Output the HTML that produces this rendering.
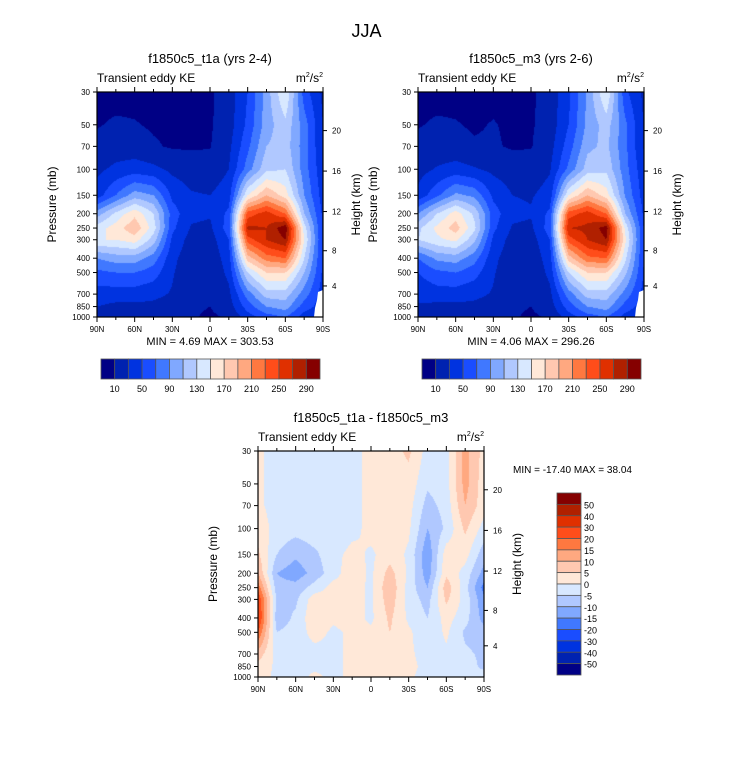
<!DOCTYPE html>
<html><head><meta charset="utf-8">
<style>
html,body{margin:0;padding:0;background:#fff;}
#wrap{position:relative;width:733px;height:772px;overflow:hidden;font-family:"Liberation Sans",sans-serif;}
canvas{position:absolute;}
svg{position:absolute;left:0;top:0;}
</style></head>
<body>
<div id="wrap">
<canvas id="c1" style="left:97px;top:92px" width="226" height="225"></canvas>
<canvas id="c2" style="left:418px;top:92px" width="226" height="225"></canvas>
<canvas id="c3" style="left:258px;top:451px" width="226" height="226"></canvas>
<svg id="ov" width="733" height="772"></svg>
</div>
<script>
// ---- data ----
const lats = [90,75,60,45,30,15,0,-15,-30,-45,-60,-75,-90];
const levs = [30,50,70,100,150,200,250,300,400,500,700,850,1000];
const keLevels = [10,30,50,70,90,110,130,150,170,190,210,230,250,270,290];
const keLabels = [10,50,90,130,170,210,250,290];
const diffLevels = [-50,-40,-30,-20,-15,-10,-5,0,5,10,15,20,30,40,50];
const colors = ["#000085","#0022b0","#0033e0","#1a4dff","#4078ff","#80a8ff","#b0c8ff","#d8e8ff","#ffe8d8","#ffc8b0","#ffa880","#ff7840","#ff4d1a","#e03000","#b02000","#850000"];
const keT1a = [
 [5,5,5,5,5,5,7,20,50,100,150,60,25],
 [9,12,11,8,7,7,8,20,55,100,125,80,30],
 [14,18,18,12,8,8,9,25,65,110,120,80,30],
 [25,35,40,35,25,20,18,30,80,125,130,80,35],
 [40,70,100,90,45,32,30,40,150,190,160,90,40],
 [100,135,165,130,60,35,32,55,240,260,230,110,45],
 [140,160,185,140,55,28,26,60,275,270,305,140,45],
 [150,150,160,120,45,22,20,50,240,270,290,150,45],
 [90,100,100,80,35,18,16,40,180,220,230,130,45],
 [65,70,70,60,32,16,14,35,130,170,170,110,45],
 [40,40,40,35,28,15,13,25,80,120,120,80,40],
 [30,25,25,25,22,13,10,20,60,90,100,60,40],
 [25,15,25,20,15,12,7,12,40,60,70,40,30]];
const keM3 = [
 [5,5,5,5,5,5,7,18,45,95,150,55,25],
 [9,12,11,8,11,7,8,18,50,95,120,75,28],
 [14,16,16,12,12,8,9,22,60,105,115,75,28],
 [22,32,38,32,25,20,18,28,75,120,125,78,35],
 [35,65,95,85,45,30,28,38,150,190,160,88,40],
 [90,130,160,125,60,35,32,55,240,260,230,110,45],
 [125,155,180,135,55,28,26,60,270,275,300,145,48],
 [130,145,155,115,45,22,20,50,240,270,290,155,48],
 [70,95,100,78,35,18,16,40,180,225,230,135,48],
 [50,65,70,58,32,16,14,35,130,170,170,115,48],
 [35,40,40,35,28,15,13,25,80,120,120,82,42],
 [28,25,25,25,22,13,10,20,60,90,100,62,40],
 [22,15,25,20,15,12,7,12,40,60,70,42,30]];
const keDiff = [
 [1,-2,-2,-2,-2,-2,2,3,6,-2,-2,12,3],
 [1,-2,-2,-2,-2,-2,2,2,3,-4,-2,12,2],
 [1,-2,-2,-2,-2,-2,2,2,2,-7,-3,10,2],
 [3,-2,-3,-2,-5,-2,2,3,1,-10,-4,6,-2],
 [6,-5,-9,-6,-2,2,-1,3,-1,-14,3,2,-8],
 [10,-10,-13,-8,-2,3,-1,7,-1,-13,4,-2,-12],
 [18,-8,-8,-3,2,2,-1,9,-2,-10,8,-3,-17],
 [25,-6,-6,3,2,2,-1,8,-2,-7,6,-2,-14],
 [27,-8,-4,4,1,2,-1,6,-1,-5,2,-3,-12],
 [20,-5,-3,2,-1,1,1,5,1,-4,1,-6,-8],
 [8,-2,-2,-2,-1,1,1,3,1,-2,-1,-4,-6],
 [3,-1,-1,-1,-1,1,1,1,1,-1,-3,-3,-6],
 [2,-1,-2,1,-1,1,1,1,1,-2,-2,-4,-3]];
const hTicks = [4,8,12,16,20];
const latTickLabels = ["90N","60N","30N","0","30S","60S","90S"];
const latTickVals = [90,60,30,0,-30,-60,-90];
const pTicks = [30,50,70,100,150,200,250,300,400,500,700,850,1000];

// ---- helpers ----
const NS="http://www.w3.org/2000/svg";
const ov=document.getElementById('ov');
function mk(tag,attrs,parent){const e=document.createElementNS(NS,tag);for(const k in attrs)e.setAttribute(k,attrs[k]);(parent||ov).appendChild(e);return e;}
function txt(x,y,s,size,anchor,name,extra){const e=mk('text',Object.assign({x:x,y:y,'font-size':size,'text-anchor':anchor||'start','font-family':'Liberation Sans, sans-serif',fill:'#000'},extra||{}));e.textContent=s;


return e;}
function pOfZ(z){const m=z*1000;return m<=11000?1013.25*Math.pow(1-2.25577e-5*m,5.25588):226.32*Math.exp(-(m-11000)/6341.6);}

function makeAxes(x0,y0,W,H){
  return {x:lat=>x0+(90-lat)/180*W, y:p=>y0+Math.log(p/30)/Math.log(1000/30)*H};
}
function colorIdx(v,lv){let i=0;while(i<lv.length&&v>=lv[i])i++;return i;}
function hex(c){return [parseInt(c.substr(1,2),16),parseInt(c.substr(3,2),16),parseInt(c.substr(5,2),16)];}
const rgb=colors.map(hex);

function drawField(id,grid,lv,W,H){
  const cv=document.getElementById(id),ctx=cv.getContext('2d');
  const img=ctx.createImageData(W,H);
  const lnTop=Math.log(30),lnBot=Math.log(1000);
  const lnLev=levs.map(Math.log);
  for(let py=0;py<H;py++){
    const lp=lnTop+(py+0.5)/H*(lnBot-lnTop);
    let r=0;while(r<levs.length-2&&lp>lnLev[r+1])r++;
    const fy=Math.min(1,Math.max(0,(lp-lnLev[r])/(lnLev[r+1]-lnLev[r])));
    for(let px=0;px<W;px++){
      const lat=90-(px+0.5)/W*180;
      let c=Math.min(lats.length-2,Math.floor((90-lat)/15));
      const fx=((90-lat)-c*15)/15;
      const v=(grid[r][c]*(1-fx)+grid[r][c+1]*fx)*(1-fy)+(grid[r+1][c]*(1-fx)+grid[r+1][c+1]*fx)*fy;
      const col=rgb[colorIdx(v,lv)];
      const o=(py*W+px)*4;img.data[o]=col[0];img.data[o+1]=col[1];img.data[o+2]=col[2];img.data[o+3]=255;
    }
  }
  ctx.putImageData(img,0,0);
}

function drawPanel(x0,y0,W,H,title,mask,prefix){
  const ax=makeAxes(x0,y0,W,H);
  if(mask){const m=mk('polygon',{points:`${x0+W},${y0+H-27} ${x0+W-5},${y0+H-25} ${x0+W-6},${y0+H-17} ${x0+W-8},${y0+H-9} ${x0+W-9},${y0+H} ${x0+W},${y0+H}`,fill:'#fff'});
  
  }
  const fr=mk('rect',{x:x0,y:y0,width:W,height:H,fill:'none',stroke:'#000','stroke-width':1.2});
  
  
  txt(x0+W/2,y0-29,title,13,'middle',prefix+'-title');
  txt(x0,y0-10,'Transient eddy KE',12,'start',prefix+'-variable-label');
  const u=txt(x0+W,y0-10,'',12,'end',prefix+'-units');
  u.innerHTML='m<tspan dy="-5" font-size="7">2</tspan><tspan dy="5">/s</tspan><tspan dy="-5" font-size="7">2</tspan>';
  pTicks.forEach(p=>{const y=ax.y(p);mk('line',{x1:x0-4,x2:x0,y1:y,y2:y,stroke:'#000'});
    txt(x0-7,y+3,String(p),8,'end',prefix+'-p-tick-'+p);});
  hTicks.forEach(z=>{const y=ax.y(pOfZ(z));mk('line',{x1:x0+W,x2:x0+W+4,y1:y,y2:y,stroke:'#000'});
    txt(x0+W+9,y+3,String(z),8,'start',prefix+'-z-tick-'+z);});
  for(let l=90;l>=-90;l-=15){const x=ax.x(l);const maj=l%30===0;
    mk('line',{x1:x,x2:x,y1:y0+H,y2:y0+H+(maj?5:3),stroke:'#000'});
    mk('line',{x1:x,x2:x,y1:y0,y2:y0-(maj?5:3),stroke:'#000'});}
  latTickVals.forEach((l,i)=>txt(ax.x(l),y0+H+15,latTickLabels[i],8,'middle',prefix+'-lat-tick-'+latTickLabels[i]));
  txt(0,0,'Pressure (mb)',12,'middle',prefix+'-y-axis-title',{transform:`translate(${x0-41},${y0+H/2}) rotate(-90)`});
  txt(0,0,'Height (km)',12,'middle',prefix+'-y2-axis-title',{transform:`translate(${x0+W+37},${y0+H/2}) rotate(-90)`});
}

function hbar(x0,y0,W,H,prefix){
  const bw=W/16;
  colors.forEach((c,i)=>{const r=mk('rect',{x:x0+i*bw,y:y0,width:bw,height:H,fill:c,stroke:'#555','stroke-width':0.8});
    
    });
  keLabels.forEach((v,i)=>txt(x0+(keLevels.indexOf(v)+1)*bw,y0+H+13,String(v),9,'middle',prefix+'-colorbar-label-'+v));
}
function vbar(x0,y0,W,H,prefix){
  const bh=H/16;
  for(let i=0;i<16;i++){const r=mk('rect',{x:x0,y:y0+i*bh,width:W,height:bh,fill:colors[15-i],stroke:'#555','stroke-width':0.8});
    
    }
  for(let j=0;j<15;j++){const v=diffLevels[14-j];txt(x0+W+3,y0+(j+1)*bh+4,String(v),9,'start',prefix+'-colorbar-label');}
}

drawField('c1',keT1a,keLevels,226,225);
drawField('c2',keM3,keLevels,226,225);
drawField('c3',keDiff,diffLevels,226,226);

txt(366.5,37,'JJA',18,'middle','main-title');
drawPanel(97,92,226,225,'f1850c5_t1a (yrs 2-4)',true,'t1a');
drawPanel(418,92,226,225,'f1850c5_m3 (yrs 2-6)',true,'m3');
drawPanel(258,451,226,226,'f1850c5_t1a - f1850c5_m3',false,'diff');
txt(210,345,'MIN =   4.69  MAX = 303.53',11,'middle','t1a-min-max');
txt(531,345,'MIN =   4.06  MAX = 296.26',11,'middle','m3-min-max');
txt(513,473,'MIN = -17.40  MAX =  38.04',10,'start','diff-min-max');
hbar(101,359,219,20,'t1a');
hbar(422,359,219,20,'m3');
vbar(557,493,24,182,'diff');
</script>
</body></html>
